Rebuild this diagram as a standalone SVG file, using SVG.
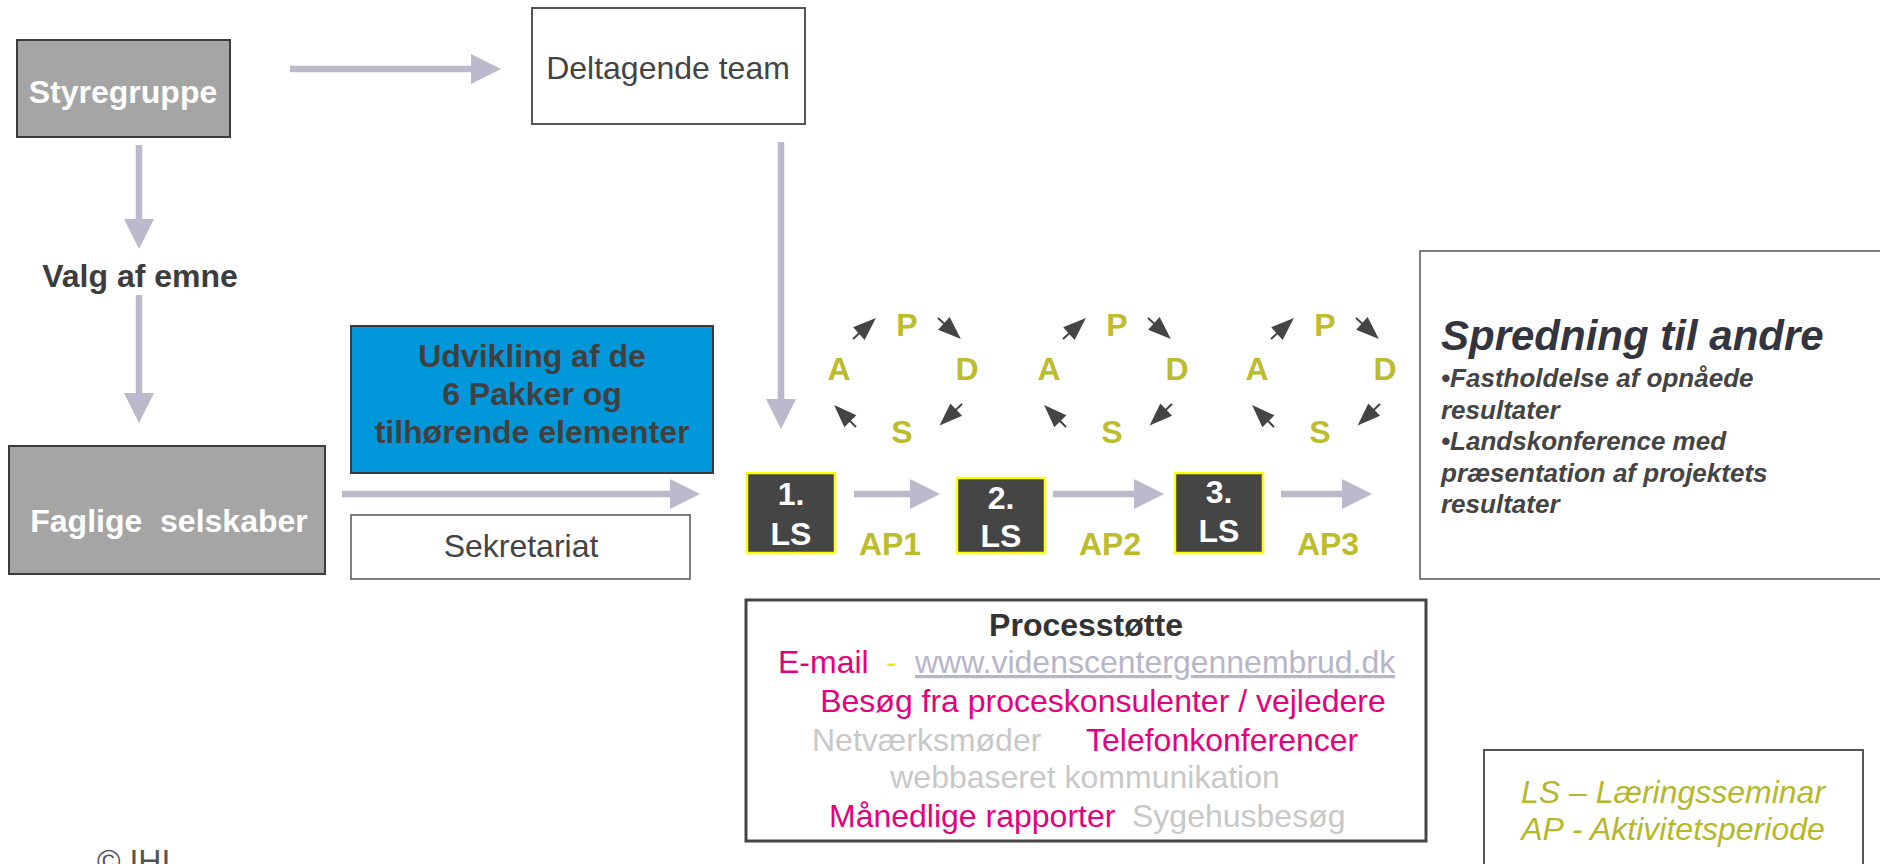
<svg xmlns="http://www.w3.org/2000/svg" xmlns:xlink="http://www.w3.org/1999/xlink" width="1880" height="864" viewBox="0 0 1880 864">
<style>
text{font-family:"Liberation Sans",Arial,Helvetica,sans-serif;font-size:32px}
.b{font-weight:bold}
.c{text-anchor:middle}
.w{fill:#ffffff}
.dk{fill:#3d3d3d}
.ol{fill:#bcbc2c;font-weight:bold;text-anchor:middle}
.mg{fill:#e5007d}
.lg{fill:#c8c8c8}
.conn{stroke:#bbb9cb;stroke-width:6.5;fill:none}
.ls rect{fill:#454545;stroke:#ffff00;stroke-width:2.5}
</style>
<defs>
<marker id="ah" markerUnits="userSpaceOnUse" markerWidth="30" markerHeight="30" refX="0" refY="15" orient="auto" overflow="visible">
<path d="M0,0 L30,15 L0,30 z" fill="#bbb9cb"/>
</marker>
<g id="sa">
<line x1="0" y1="0" x2="12" y2="0" stroke="#444444" stroke-width="2"/>
<polygon points="8,-8.5 31,0 8,8.5" fill="#444444"/>
</g>
<g id="pdsa">
<text class="ol" x="907" y="336">P</text>
<text class="ol" x="839" y="380">A</text>
<text class="ol" x="967" y="380">D</text>
<text class="ol" x="902" y="443">S</text>
<use xlink:href="#sa" href="#sa" transform="translate(853,339) rotate(-42.4)"/>
<use xlink:href="#sa" href="#sa" transform="translate(938,318) rotate(42.4)"/>
<use xlink:href="#sa" href="#sa" transform="translate(962,404) rotate(136.3)"/>
<use xlink:href="#sa" href="#sa" transform="translate(856,427) rotate(-135)"/>
</g>
</defs>
<rect width="1880" height="864" fill="#ffffff"/>

<g id="connectors">
<line class="conn" x1="290" y1="69" x2="471" y2="69" marker-end="url(#ah)"/>
<line class="conn" x1="139" y1="145" x2="139" y2="219" marker-end="url(#ah)"/>
<line class="conn" x1="139" y1="295" x2="139" y2="393" marker-end="url(#ah)"/>
<line class="conn" x1="781" y1="142" x2="781" y2="399" marker-end="url(#ah)"/>
<line class="conn" x1="342" y1="494" x2="670" y2="494" marker-end="url(#ah)"/>
<line class="conn" x1="854" y1="494" x2="910" y2="494" marker-end="url(#ah)"/>
<line class="conn" x1="1053" y1="494" x2="1134" y2="494" marker-end="url(#ah)"/>
<line class="conn" x1="1281" y1="494" x2="1342" y2="494" marker-end="url(#ah)"/>
</g>

<g id="styregruppe">
<rect x="17" y="40" width="213" height="97" fill="#a4a5a4" stroke="#3c3c3c" stroke-width="2"/>
<text class="b c w" x="123" y="103">Styregruppe</text>
</g>

<g id="deltagende">
<rect x="532" y="8" width="273" height="116" fill="#ffffff" stroke="#555555" stroke-width="2"/>
<text class="c" x="668" y="79" fill="#444444">Deltagende team</text>
</g>

<g id="valg">
<text class="b c dk" x="140" y="287">Valg af emne</text>
</g>

<g id="faglige">
<rect x="9" y="446" width="316" height="128" fill="#a4a5a4" stroke="#3c3c3c" stroke-width="2"/>
<text class="b c w" x="169" y="532" xml:space="preserve">Faglige  selskaber</text>
</g>

<g id="udvikling">
<rect x="351" y="326" width="362" height="147" fill="#0098da" stroke="#3a3a3a" stroke-width="2"/>
<text class="b c" x="532" y="367" fill="#404040">Udvikling af de</text>
<text class="b c" x="532" y="405" fill="#404040">6 Pakker og</text>
<text class="b c" x="532" y="443" fill="#404040">tilhørende elementer</text>
</g>

<g id="sekretariat">
<rect x="351" y="515" width="339" height="64" fill="#ffffff" stroke="#555555" stroke-width="1.5"/>
<text class="c" x="521" y="557" fill="#444444">Sekretariat</text>
</g>

<g id="ls1" class="ls">
<rect x="747" y="473" width="88" height="80"/>
<text class="b c w" x="791" y="505">1.</text>
<text class="b c w" x="791" y="545">LS</text>
</g>
<g id="ls2" class="ls">
<rect x="957" y="478" width="88" height="75"/>
<text class="b c w" x="1001" y="509">2.</text>
<text class="b c w" x="1001" y="547">LS</text>
</g>
<g id="ls3" class="ls">
<rect x="1175" y="473" width="88" height="80"/>
<text class="b c w" x="1219" y="503">3.</text>
<text class="b c w" x="1219" y="542">LS</text>
</g>

<g id="ap-labels">
<text class="ol" x="890" y="555">AP1</text>
<text class="ol" x="1110" y="555">AP2</text>
<text class="ol" x="1328" y="555">AP3</text>
</g>

<g id="pdsa1"><use xlink:href="#pdsa" href="#pdsa"/></g>
<g id="pdsa2"><use xlink:href="#pdsa" href="#pdsa" transform="translate(210,0)"/></g>
<g id="pdsa3"><use xlink:href="#pdsa" href="#pdsa" transform="translate(418,0)"/></g>

<g id="spredning">
<rect x="1420" y="251" width="480" height="328" fill="#ffffff" stroke="#555555" stroke-width="1.5"/>
<text x="1441" y="350" font-weight="bold" font-style="italic" style="font-size:42px" fill="#34343f">Spredning til andre</text>
<g font-weight="bold" font-style="italic" fill="#444444">
<text x="1441" y="387" style="font-size:26px">•Fastholdelse af opnåede</text>
<text x="1441" y="418.5" style="font-size:26px">resultater</text>
<text x="1441" y="450" style="font-size:26px">•Landskonference med</text>
<text x="1441" y="481.5" style="font-size:26px">præsentation af projektets</text>
<text x="1441" y="513" style="font-size:26px">resultater</text>
</g>
</g>

<g id="processtotte">
<rect x="746" y="600" width="680" height="241" fill="#ffffff" stroke="#444444" stroke-width="3"/>
<text class="b c" x="1086" y="636" fill="#333333">Processtøtte</text>
<text class="mg" x="778" y="673">E-mail</text>
<text x="886" y="673" fill="#f2e600">-</text>
<text x="915" y="673" fill="#b7b5c8" text-decoration="underline">www.videnscentergennembrud.dk</text>
<text class="mg c" x="1103" y="712">Besøg fra proceskonsulenter / vejledere</text>
<text class="lg" x="812" y="751">Netværksmøder</text>
<text class="mg" x="1086" y="751">Telefonkonferencer</text>
<text class="lg c" x="1085" y="788">webbaseret kommunikation</text>
<text class="mg" x="829" y="827">Månedlige rapporter</text>
<text class="lg" x="1132" y="827">Sygehusbesøg</text>
</g>

<g id="legend">
<rect x="1484" y="750" width="379" height="130" fill="#ffffff" stroke="#555555" stroke-width="2"/>
<text class="c" x="1673" y="803" font-style="italic" fill="#b5b82a">LS – Læringsseminar</text>
<text class="c" x="1673" y="840" font-style="italic" fill="#b5b82a">AP - Aktivitetsperiode</text>
</g>

<g id="copyright">
<text x="97" y="872" fill="#555555">© IHI</text>
</g>
</svg>
